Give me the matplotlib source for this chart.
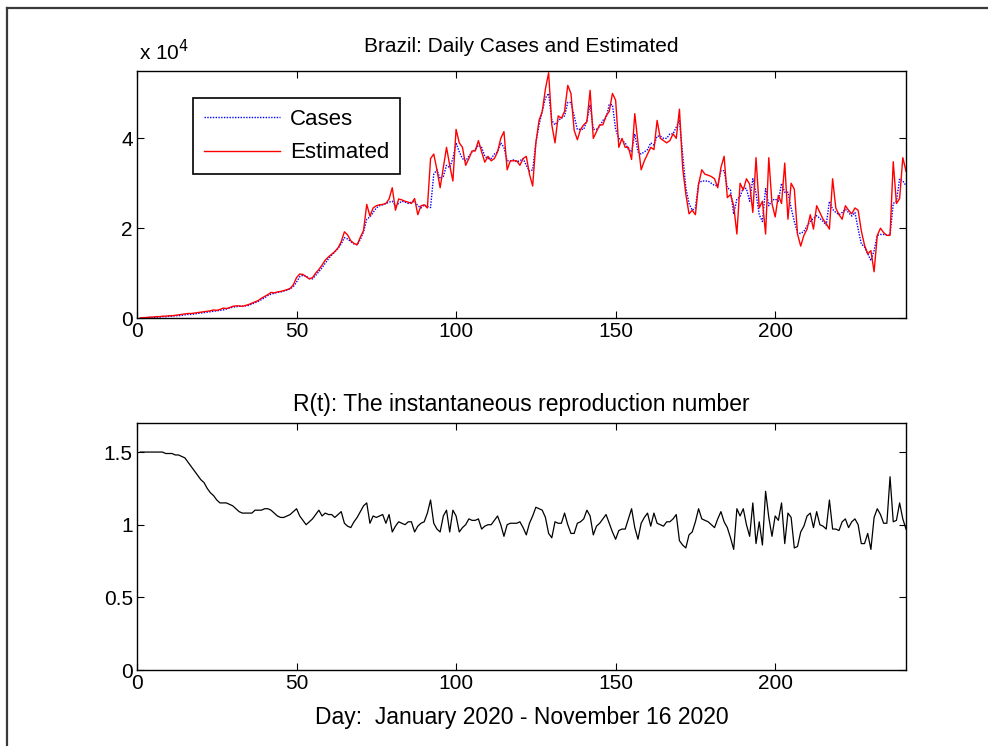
"""Brazil daily cases vs. estimated, and R(t) - MATLAB-style two panel figure."""

import matplotlib
matplotlib.use("Agg")
import matplotlib.pyplot as plt
from matplotlib.lines import Line2D
import numpy as np

plt.rcParams["font.family"] = ["Liberation Sans", "DejaVu Sans"]
plt.rcParams["font.size"] = 15

# daily values, in units of 1e4 cases
cases = [
    0.00, 0.00, 0.01, 0.01, 0.01, 0.02, 0.02, 0.03, 0.03, 0.04,
    0.04, 0.05, 0.05, 0.06, 0.07, 0.08, 0.08, 0.09, 0.10, 0.11,
    0.12, 0.13, 0.14, 0.15, 0.16, 0.17, 0.18, 0.20, 0.22, 0.24,
    0.25, 0.26, 0.26, 0.27, 0.28, 0.31, 0.34, 0.37, 0.41, 0.45,
    0.50, 0.53, 0.55, 0.57, 0.58, 0.60, 0.62, 0.65, 0.70, 0.80,
    0.92, 0.95, 0.93, 0.88, 0.87, 0.95, 1.03, 1.12, 1.22, 1.32,
    1.40, 1.47, 1.55, 1.65, 1.79, 1.76, 1.70, 1.65, 1.63, 1.75,
    1.92, 2.20, 2.25, 2.35, 2.45, 2.50, 2.52, 2.55, 2.58, 2.60,
    2.50, 2.55, 2.60, 2.58, 2.55, 2.58, 2.60, 2.50, 2.45, 2.52,
    2.48, 2.46, 3.20, 3.30, 3.10, 3.15, 3.40, 3.35, 3.55, 3.90,
    3.70, 3.55, 3.50, 3.60, 3.70, 3.75, 3.85, 3.80, 3.60, 3.55,
    3.55, 3.65, 3.70, 3.90, 3.80, 3.50, 3.50, 3.52, 3.48, 3.50,
    3.55, 3.40, 3.27, 3.30, 3.90, 4.30, 4.60, 4.90, 5.00, 4.40,
    4.30, 4.40, 4.45, 4.50, 4.80, 4.80, 4.50, 4.20, 4.20, 4.20,
    4.40, 4.75, 4.20, 4.20, 4.27, 4.40, 4.45, 4.75, 4.75, 4.20,
    4.00, 3.95, 3.90, 3.75, 3.70, 4.10, 3.70, 3.65, 3.70, 3.75,
    3.90, 3.85, 4.05, 4.05, 4.00, 4.00, 4.10, 4.10, 4.25, 4.40,
    3.65, 2.90, 2.55, 2.40, 2.45, 3.00, 3.05, 3.05, 3.05, 3.00,
    2.95, 2.95, 3.28, 3.28, 2.90, 2.85, 2.31, 2.65, 2.70, 2.90,
    2.88, 2.60, 3.10, 2.78, 2.30, 2.15, 2.88, 2.50, 2.62, 2.65,
    2.60, 3.00, 2.80, 2.80, 2.45, 2.15, 1.90, 1.88, 1.93, 2.05,
    2.15, 2.22, 2.28, 2.22, 2.15, 2.07, 2.60, 2.42, 2.35, 2.30,
    2.35, 2.42, 2.35, 2.27, 2.35, 1.98, 1.65, 1.58, 1.43, 1.28,
    1.50, 1.84, 1.86, 1.86, 1.85, 1.85, 2.55, 2.60, 3.10, 3.05,
    2.95,
]

estimated = [
    0.00, 0.01, 0.01, 0.02, 0.02, 0.03, 0.03, 0.04, 0.04, 0.05,
    0.05, 0.06, 0.07, 0.08, 0.09, 0.10, 0.10, 0.11, 0.12, 0.13,
    0.14, 0.15, 0.16, 0.18, 0.17, 0.19, 0.22, 0.21, 0.23, 0.26,
    0.27, 0.27, 0.26, 0.28, 0.30, 0.33, 0.36, 0.39, 0.44, 0.48,
    0.52, 0.57, 0.56, 0.58, 0.59, 0.61, 0.63, 0.66, 0.74, 0.90,
    0.98, 0.97, 0.92, 0.87, 0.90, 1.00, 1.08, 1.18, 1.29, 1.36,
    1.42, 1.48, 1.56, 1.70, 1.92, 1.85, 1.72, 1.66, 1.63, 1.80,
    1.95, 2.53, 2.27, 2.45, 2.50, 2.52, 2.53, 2.55, 2.65, 2.90,
    2.40, 2.65, 2.63, 2.60, 2.58, 2.55, 2.66, 2.30, 2.50, 2.52,
    2.45, 3.55, 3.65, 3.30, 2.90, 3.35, 3.80, 3.40, 3.05, 4.20,
    3.90, 3.80, 3.40, 3.55, 3.72, 3.72, 3.95, 3.70, 3.47, 3.60,
    3.50, 3.55, 3.70, 4.00, 4.15, 3.30, 3.50, 3.50, 3.50, 3.40,
    3.55, 3.60, 3.20, 2.94, 3.90, 4.40, 4.60, 5.10, 5.46, 4.30,
    3.90, 4.50, 4.45, 4.60, 5.18, 5.00, 4.18, 3.97, 4.20, 4.30,
    4.37, 5.07, 4.00, 4.15, 4.30, 4.30, 4.50, 4.60, 5.00, 4.85,
    3.80, 4.00, 3.80, 3.80, 3.53, 4.55, 3.90, 3.30, 3.50, 3.65,
    3.80, 3.75, 4.40, 4.00, 3.95, 3.90, 3.95, 4.10, 4.00, 4.65,
    3.35, 2.76, 2.32, 2.40, 2.30, 2.98, 3.30, 3.20, 3.18, 3.15,
    3.10, 2.90, 3.35, 3.60, 2.68, 2.75, 2.50, 1.87, 3.00, 2.85,
    3.10, 2.98, 2.35, 3.57, 2.45, 2.60, 1.87, 3.57, 2.55, 2.25,
    2.73, 2.55, 3.45, 2.20, 3.00, 2.87, 1.87, 1.60, 1.84, 1.98,
    2.30, 1.98, 2.50, 2.35, 2.20, 2.10, 1.98, 3.10, 2.45, 2.30,
    2.20, 2.50, 2.40, 2.32, 2.45, 2.40, 1.94, 1.62, 1.43, 1.50,
    1.03, 1.84, 2.00, 1.90, 1.84, 1.84, 3.48, 2.55, 2.66, 3.57,
    3.27,
]

r_t = [
    1.50, 1.50, 1.50, 1.50, 1.50, 1.50, 1.50, 1.50, 1.49, 1.49,
    1.49, 1.48, 1.48, 1.47, 1.46, 1.43, 1.40, 1.37, 1.34, 1.31,
    1.29, 1.25, 1.22, 1.20, 1.17, 1.15, 1.15, 1.15, 1.14, 1.13,
    1.11, 1.09, 1.08, 1.08, 1.08, 1.08, 1.10, 1.10, 1.10, 1.11,
    1.11, 1.10, 1.08, 1.06, 1.05, 1.05, 1.06, 1.07, 1.09, 1.11,
    1.06, 1.03, 1.00, 1.02, 1.04, 1.07, 1.10, 1.06, 1.08, 1.07,
    1.07, 1.05, 1.07, 1.09, 1.01, 0.99, 0.98, 1.02, 1.05, 1.09,
    1.13, 1.15, 1.01, 1.06, 1.05, 1.06, 1.07, 1.01, 1.07, 0.95,
    0.99, 1.02, 1.01, 1.00, 1.02, 1.02, 0.95, 0.99, 1.01, 1.02,
    1.08, 1.17, 1.01, 0.97, 0.95, 1.06, 1.10, 0.95, 1.10, 1.06,
    0.95, 0.98, 1.00, 1.04, 1.03, 1.03, 1.04, 0.97, 0.99, 1.00,
    1.00, 1.03, 1.06, 1.00, 0.92, 1.00, 1.01, 1.01, 1.01, 1.02,
    0.98, 0.93, 1.01, 1.06, 1.12, 1.11, 1.10, 1.05, 0.94, 0.91,
    1.02, 1.01, 1.01, 1.08, 1.00, 0.94, 0.94, 1.01, 1.02, 1.04,
    1.10, 1.06, 0.93, 0.99, 1.01, 1.04, 1.07, 1.01, 0.95, 0.90,
    0.96, 0.97, 0.97, 1.04, 1.11, 0.98, 0.90, 1.01, 1.05, 1.08,
    0.99, 1.08, 1.01, 1.00, 0.99, 1.02, 1.02, 1.04, 1.07, 0.89,
    0.86, 0.84, 0.93, 0.95, 1.02, 1.11, 1.04, 1.03, 1.02, 1.00,
    0.98, 1.04, 1.09, 1.02, 0.98, 0.91, 0.83, 1.11, 1.06, 1.11,
    1.00, 0.92, 1.15, 0.87, 1.02, 0.86, 1.23, 1.05, 0.92, 1.06,
    1.03, 1.15, 0.87, 1.08, 1.05, 0.84, 0.85, 0.95, 0.99, 1.06,
    1.08, 0.98, 1.09, 1.00, 0.99, 0.97, 1.17, 0.97, 0.97, 0.96,
    1.02, 1.04, 0.98, 1.02, 1.04, 1.00, 0.87, 0.87, 0.94, 0.83,
    1.05, 1.11, 1.07, 1.01, 1.01, 1.33, 1.02, 1.03, 1.15, 1.04,
    0.97,
]

days = np.arange(1, len(cases) + 1)
x_ticks = [0, 50, 100, 150, 200]
top_yticks = [0, 2, 4]
bottom_yticks = [0, 0.5, 1, 1.5]
bottom_yticklabels = ["0", "0.5", "1", "1.5"]

W, H = 988, 746
fig = plt.figure(figsize=(W / 100, H / 100), dpi=100)


def px_box(left, top, right, bottom):
    return [left / W, 1 - bottom / H, (right - left) / W, (bottom - top) / H]


def matlab_axes(ax):
    ax.tick_params(direction="in", top=True, right=True, length=5, width=0.8,
                   labelsize=15, pad=3)
    for s in ax.spines.values():
        s.set_linewidth(1.0)
        s.set_color("black")


ax1 = fig.add_axes(px_box(137, 71, 906, 318))
ax1.plot(days, cases, color="blue", linestyle=(0, (1, 1)), linewidth=1.0, label="Cases")
ax1.plot(days, estimated, color="red", linewidth=1.0, label="Estimated")
ax1.set_xlim(0, 241)
ax1.set_ylim(0, 5.5)
ax1.set_xticks(x_ticks)
ax1.set_yticks(top_yticks)
matlab_axes(ax1)
ax1.set_title("Brazil: Daily Cases and Estimated", fontsize=15, pad=14)
fig.text(139 / W, 1 - 60 / H, r"x 10$^{4}$", fontsize=15, ha="left", va="baseline")

leg = ax1.legend(loc="upper left", bbox_to_anchor=(193 / W, 1 - 98 / H),
                 bbox_transform=fig.transFigure, borderaxespad=0, fancybox=False,
                 edgecolor="black", framealpha=1, fontsize=16, handlelength=3.4,
                 handletextpad=0.45, labelspacing=0.55, borderpad=0.5)
leg.get_frame().set_linewidth(1.2)

ax2 = fig.add_axes(px_box(137, 423, 906, 670))
ax2.plot(days, r_t, color="black", linewidth=0.9)
ax2.set_xlim(0, 241)
ax2.set_ylim(0, 1.7)
ax2.set_xticks(x_ticks)
ax2.set_yticks(bottom_yticks)
ax2.set_yticklabels(bottom_yticklabels)
matlab_axes(ax2)
ax2.set_title("R(t): The instantaneous reproduction number", fontsize=16.5, pad=9)
ax2.set_xlabel("Day:  January 2020 - November 16 2020", fontsize=16.5, labelpad=9)

# outer frame (left and top edges of the exported figure)
fig.add_artist(Line2D([7 / W, 7 / W], [0, 1 - 8 / H], transform=fig.transFigure,
                      color="#3a3a3a", linewidth=1.6))
fig.add_artist(Line2D([7 / W, 1], [1 - 8 / H, 1 - 8 / H], transform=fig.transFigure,
                      color="#3a3a3a", linewidth=1.6))

fig.savefig("out.png", dpi=100)
